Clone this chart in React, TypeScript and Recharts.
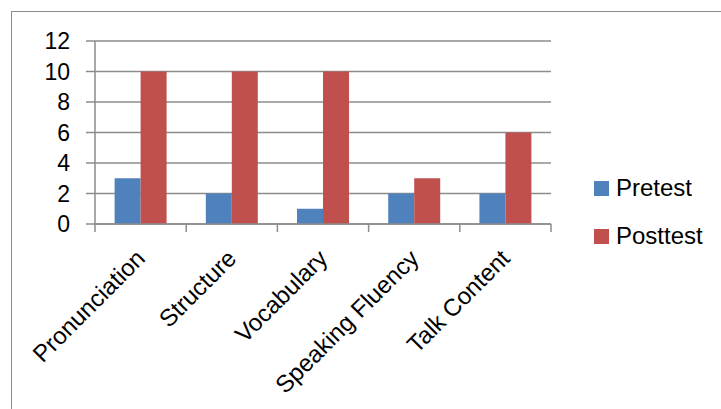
import React from "react";
import { BarChart, Bar, XAxis, YAxis, CartesianGrid, Legend } from "recharts";

const categories = ["Pronunciation", "Structure", "Vocabulary", "Speaking Fluency", "Talk Content"];
const pretest = [3, 2, 1, 2, 2];
const posttest = [10, 10, 10, 3, 6];
const yTicks = [0, 2, 4, 6, 8, 10, 12];
const seriesNames = ["Pretest", "Posttest"];
const seriesColors = ["#4F81BD", "#C0504D"];

const data = categories.map((c, i) => ({ name: c, Pretest: pretest[i], Posttest: posttest[i] }));

const FONT = "'Liberation Sans', Arial, sans-serif";
const GRAY = "#8c8c8c";

const CatTick = (props: any) => {
  const { x, y, payload, index } = props;
  const off = payload && typeof payload.offset === "number" ? payload.offset : 0;
  const ty = y + 30;
  const isLast = index === categories.length - 1;
  return (
    <g>
      <line x1={x - off} x2={x - off} y1={y} y2={y + 8} stroke={GRAY} strokeWidth={1.5} />
      {isLast && <line x1={x + off} x2={x + off} y1={y} y2={y + 8} stroke={GRAY} strokeWidth={1.5} />}
      <text
        x={x}
        y={ty}
        dy="0.35em"
        textAnchor="end"
        transform={`rotate(-45, ${x}, ${ty})`}
        fontSize={24}
        fontFamily={FONT}
        fill="#000"
      >
        {payload.value}
      </text>
    </g>
  );
};

const LegendContent = () => (
  <div style={{ fontFamily: FONT, fontSize: 24, color: "#000" }}>
    {seriesNames.map((n, i) => (
      <div key={n} style={{ height: 48, display: "flex", alignItems: "center" }}>
        <span style={{ width: 15, height: 15, background: seriesColors[i], display: "inline-block", marginRight: 7 }} />
        <span>{n}</span>
      </div>
    ))}
  </div>
);

export default function App() {
  return (
    <div style={{ position: "absolute", left: 0, top: 0, width: 721, height: 409, overflow: "hidden", background: "#fff" }}>
      <div style={{ position: "absolute", left: 11, top: 11, width: 800, height: 500, border: `1.5px solid ${GRAY}` }} />
      <div style={{ position: "absolute", left: 0, top: 0 }}>
        <BarChart
          width={721}
          height={409}
          data={data}
          margin={{ top: 41, right: 50, left: 0, bottom: 25 }}
          barCategoryGap="21.5%"
          barGap={0}
        >
          <CartesianGrid vertical={false} stroke={GRAY} strokeWidth={1.5} />
          <XAxis
            dataKey="name"
            height={160}
            interval={0}
            tickLine={false}
            tickSize={0}
            tickMargin={0}
            axisLine={{ stroke: GRAY, strokeWidth: 1.5 }}
            tick={<CatTick />}
          />
          <YAxis
            width={95}
            domain={[0, 12]}
            ticks={yTicks}
            interval={0}
            axisLine={{ stroke: GRAY, strokeWidth: 1.5 }}
            tickLine={{ stroke: GRAY, strokeWidth: 1.5 }}
            tickSize={9}
            tickMargin={16}
            tick={{ fontSize: 23, fontFamily: FONT, fill: "#000" }}
          />
          <Legend
            layout="vertical"
            align="right"
            verticalAlign="middle"
            content={<LegendContent />}
            wrapperStyle={{ left: 594, top: 164, width: 120 }}
          />
          <Bar dataKey="Pretest" fill={seriesColors[0]} isAnimationActive={false} />
          <Bar dataKey="Posttest" fill={seriesColors[1]} isAnimationActive={false} />
        </BarChart>
      </div>
    </div>
  );
}
